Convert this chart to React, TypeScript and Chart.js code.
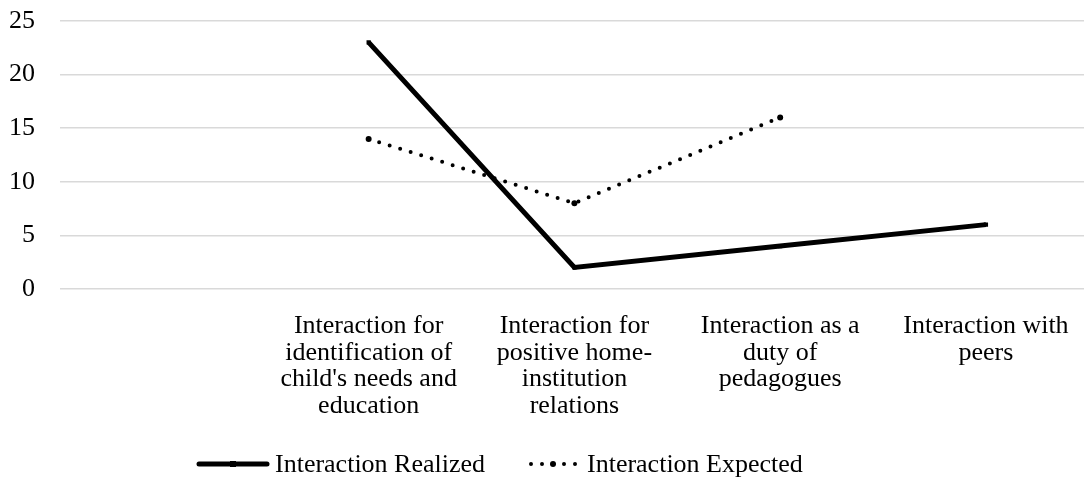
import React, { useEffect, useRef } from "react";
import { Chart, registerables } from "chart.js";

Chart.register(...registerables);

const categories: string[][] = [
  [""],
  ["Interaction for", "identification of", "child's needs and", "education"],
  ["Interaction for", "positive home-", "institution", "relations"],
  ["Interaction as a", "duty of", "pedagogues"],
  ["Interaction with", "peers"],
];
const realized: (number | null)[] = [null, 23, 2, 4, 6];
const expected: (number | null)[] = [null, 14, 8, 16, null];
const seriesNames = ["Interaction Realized", "Interaction Expected"];
const yTicks = { min: 0, max: 25, step: 5 };

const FONT = '"Liberation Serif", "Times New Roman", serif';

const legendPlugin = {
  id: "customLegend",
  afterDraw(chart: any) {
    const ctx = chart.ctx as CanvasRenderingContext2D;
    const y = 465;
    ctx.save();
    ctx.font = `26px ${FONT}`;
    ctx.fillStyle = "#000";
    ctx.textBaseline = "middle";
    ctx.textAlign = "left";
    const ds0 = chart.data.datasets[0];
    ctx.strokeStyle = ds0.borderColor;
    ctx.lineWidth = ds0.borderWidth;
    ctx.lineCap = "round";
    ctx.beginPath();
    ctx.moveTo(199, y - 1);
    ctx.lineTo(267, y - 1);
    ctx.stroke();
    ctx.fillRect(230, y - 4, 6, 6);
    ctx.fillText(ds0.label, 275, y);
    const ds1 = chart.data.datasets[1];
    ctx.strokeStyle = ds1.borderColor;
    ctx.lineWidth = ds1.borderWidth;
    ctx.lineCap = "round";
    ctx.setLineDash(ds1.borderDash);
    ctx.beginPath();
    ctx.moveTo(531, y - 1);
    ctx.lineTo(578, y - 1);
    ctx.stroke();
    ctx.setLineDash([]);
    ctx.beginPath();
    ctx.arc(553, y - 1, 3, 0, Math.PI * 2);
    ctx.fill();
    ctx.fillText(ds1.label, 587, y);
    ctx.restore();
  },
};

export default function App() {
  const ref = useRef<HTMLCanvasElement | null>(null);
  useEffect(() => {
    if (!ref.current) return;
    const chart = new Chart(ref.current, {
      type: "line",
      data: {
        labels: categories,
        datasets: [
          {
            label: seriesNames[0],
            data: realized,
            borderColor: "#000",
            backgroundColor: "#000",
            borderWidth: 5,
            pointStyle: "rect",
            pointRadius: 3,
            pointBorderWidth: 0,
            pointBackgroundColor: "#000",
            tension: 0,
          },
          {
            label: seriesNames[1],
            data: expected,
            borderColor: "#000",
            backgroundColor: "#000",
            borderWidth: 4,
            borderDash: [0, 11],
            borderCapStyle: "round",
            pointStyle: "circle",
            pointRadius: 3,
            pointBorderWidth: 0,
            pointBackgroundColor: "#000",
            tension: 0,
          },
        ],
      },
      options: {
        responsive: false,
        animation: false,
        layout: { padding: { left: 9, right: 0, top: 21, bottom: 36 } },
        plugins: {
          legend: { display: false },
          tooltip: { enabled: false },
        },
        scales: {
          x: {
            offset: true,
            grid: { display: false, drawTicks: false },
            border: { display: false },
            ticks: {
              color: "#000",
              font: { family: FONT, size: 26, lineHeight: 1.02 },
              padding: 24,
              maxRotation: 0,
              autoSkip: false,
            },
          },
          y: {
            min: yTicks.min,
            max: yTicks.max,
            afterFit: (axis: any) => {
              axis.width = 51;
              axis.paddingTop = 0;
              axis.paddingBottom = 0;
            },
            grid: { color: "#d9d9d9", lineWidth: 1.5, drawTicks: false },
            border: { display: false },
            ticks: {
              stepSize: yTicks.step,
              color: "#000",
              font: { family: FONT, size: 26 },
              padding: 25,
            },
          },
        },
      },
      plugins: [legendPlugin],
    });
    return () => chart.destroy();
  }, []);
  return (
    <div style={{ position: "absolute", left: 0, top: 0, width: 1084, height: 479, overflow: "hidden", background: "#fff" }}>
      <canvas ref={ref} width={1093} height={479} style={{ display: "block", width: 1093, height: 479 }} />
    </div>
  );
}
